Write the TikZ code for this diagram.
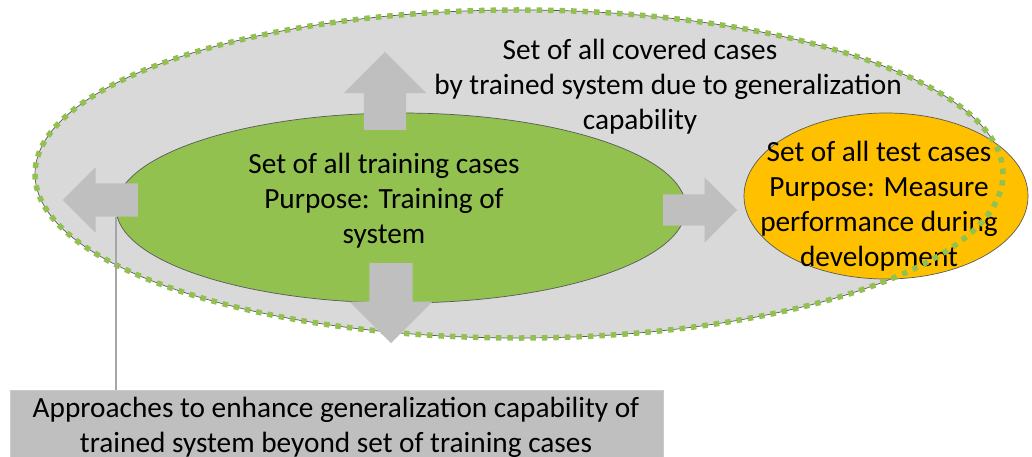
\documentclass[tikz,border=0pt]{standalone}
\usepackage{fontspec}
\setmainfont{Carlito}
\usepackage{xcolor}
\usepackage{tikz}
\usetikzlibrary{shapes.geometric,shapes.arrows}

\definecolor{covergray}{HTML}{D9D9D9}
\definecolor{traingreen}{HTML}{92C150}
\definecolor{testyellow}{HTML}{FFC000}
\definecolor{blockgray}{HTML}{BFBFBF}
\definecolor{rimgray}{HTML}{595959}
\definecolor{linegray}{HTML}{A6A6A6}

\begin{document}
\begin{tikzpicture}[x=1pt,y=-1pt,
    caseset/.style={ellipse, draw=rimgray, line width=0.7pt, inner sep=0pt},
    settext/.style={align=center, font=\fontsize{29.3}{35}\selectfont},
    grow/.style={single arrow, fill=blockgray, inner xsep=0pt, single arrow head extend=#1, anchor=tail}]
    \useasboundingbox (0,0) rectangle (1032,457);
    \clip (0,0) rectangle (1032,457);

    \node(covered) [caseset, fill=covergray, minimum width=968pt, minimum height=328pt] at (519,174) {};
    \node(coveredtext) [settext] at (668,87) {Set of all covered cases\hspace*{56pt}\\by trained system due to generalization\\capability\hspace*{56pt}};

    \node(training) [caseset, fill=traingreen, minimum width=570pt, minimum height=190pt] at (401,208) {};
    \node(trainingtext) [settext] at (384,201) {Set of all training cases\\Purpose: Training of\\system};

    \node(test) [caseset, fill=testyellow, minimum width=284pt, minimum height=166pt] at (886,196) {};
    \node(testtext) [settext] at (879,206) {Set of all test cases\\Purpose: Measure\\performance during\\development};

    % dotted green rim lies over everything inside
    \node(coveredrim) [ellipse, inner sep=0pt, minimum width=968pt, minimum height=328pt, draw=traingreen, line width=5.5pt, dash pattern=on 5.5pt off 6pt] at (covered.center) {};

    \node(grow up) [grow=20pt, inner ysep=21pt, rotate=90, minimum height=78pt] at (385,130) {};
    \node(grow down) [grow=20pt, inner ysep=21.5pt, rotate=-90, minimum height=80pt] at (391,263) {};
    \node(grow left) [grow=16pt, inner ysep=16.5pt, rotate=180, minimum height=75pt] at (138,200) {};
    \node(grow right) [grow=17pt, inner ysep=15.5pt, minimum height=74pt] at (663,210) {};

    \node(approach) [rectangle, draw=linegray!60, fill=blockgray, line width=0.8pt, minimum width=653pt, minimum height=90pt, anchor=north west, inner sep=0pt] at (10,390) {};
    \node(approachtext) [settext] at (336,427) {Approaches to enhance generalization capability of\\trained system beyond set of training cases};

    \coordinate(hook) at (116,217);
    \draw[linegray, line width=1.5pt] (approach.north -| hook) -- (hook);
\end{tikzpicture}
\end{document}
